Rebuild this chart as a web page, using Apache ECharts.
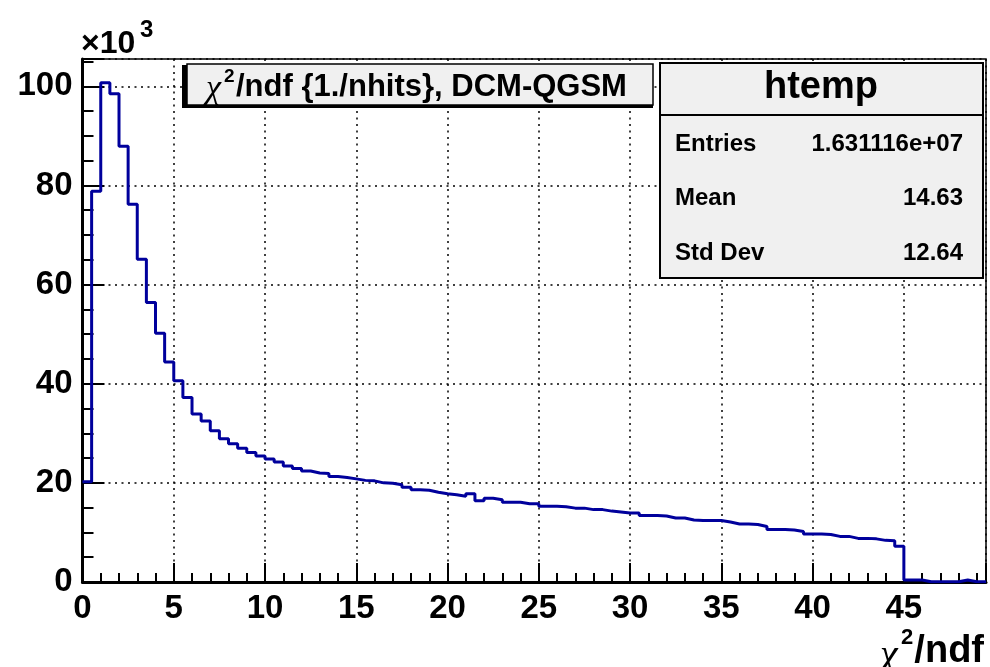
<!DOCTYPE html>
<html>
<head>
<meta charset="utf-8">
<script src="https://cdn.jsdelivr.net/npm/echarts@6/dist/echarts.min.js"></script>
<style>
html,body{margin:0;padding:0;background:#fff;}
#chart{width:990px;height:667px;}
</style>
</head>
<body>
<div id="chart"></div>
<script>
// ---- data (counts in units of 10^3) ----
var binStart = 0;
var binWidth = 0.5;
var counts = [
  20.2, 78.8, 100.7, 98.5, 87.9, 76.2, 65.1, 56.4, 50.2, 44.4,
  40.6, 37.2, 33.9, 32.5, 30.5, 28.9, 27.9, 27.0, 26.1, 25.4,
  24.8, 24.2, 23.4, 22.9, 22.4, 22.0, 21.9, 21.3, 21.1, 20.8,
  20.5, 20.4, 20.0, 19.9, 19.6, 19.1, 18.6, 18.5, 18.1, 17.8,
  17.6, 17.3, 17.8, 16.4, 16.9, 16.6, 16.1, 16.1, 15.8, 15.8,
  15.3, 15.3, 15.2, 14.9, 14.9, 14.6, 14.6, 14.3, 14.1, 13.9,
  13.9, 13.4, 13.4, 13.3, 12.9, 12.9, 12.5, 12.4, 12.4, 12.4,
  12.1, 11.7, 11.7, 11.6, 11.2, 10.6, 10.6, 10.5, 10.2, 9.7,
  9.7, 9.6, 9.2, 9.2, 8.8, 8.8, 8.7, 8.4, 8.3, 7.2,
  0.4, 0.4, 0.05, 0.05, 0.05, 0.05, 0.4, 0.05, 0.05
];
var xTicks = [0, 5, 10, 15, 20, 25, 30, 35, 40, 45];
var yTicks = [0, 20, 40, 60, 80, 100];
var xMax = 49.5;
var yMax = 105.5;
var titleText = '/ndf {1./nhits}, DCM-QGSM';
var statsName = 'htemp';
var statsLabels = ['Entries', 'Mean', 'Std Dev'];
var statsValues = ['1.631116e+07', '14.63', '12.64'];

// ---- build step points ----
var pts = [];
for (var i = 0; i < counts.length; i++) {
  pts.push([binStart + i * binWidth, counts[i]]);
}
pts.push([binStart + counts.length * binWidth, counts[counts.length - 1]]);

var FONT = 'Liberation Sans, Arial, Helvetica, sans-serif';
var SERIF = 'Liberation Serif, DejaVu Serif, serif';
var chart = echarts.init(document.getElementById('chart'), null, {renderer: 'canvas'});
var dotted = {color: '#000', width: 1.5, type: [2, 4.5]};

function txt(x, y, s, font, align) {
  var st = {text: s, font: font, fill: '#000', align: align || 'left', verticalAlign: 'middle'};
  return {type: 'text', z: 12, x: x, y: y, style: st};
}

var option = {
  animation: false,
  backgroundColor: '#fff',
  grid: {
    left: 82.5, right: 4, top: 59, bottom: 85,
    show: true, borderColor: '#000', borderWidth: 1.5, backgroundColor: 'transparent'
  },
  xAxis: [{
    type: 'value', min: 0, max: xMax, interval: 5,
    axisLine: {show: true, onZero: false, lineStyle: {color: '#000', width: 3}},
    axisTick: {show: true, inside: true, length: 19, lineStyle: {color: '#000', width: 2}},
    minorTick: {show: true, splitNumber: 5, length: 9, lineStyle: {color: '#000', width: 2}},
    axisLabel: {
      color: '#000', fontFamily: FONT, fontWeight: 'bold', fontSize: 33, margin: 10,
      formatter: function (v) { return xTicks.indexOf(v) >= 0 ? String(v) : ''; }
    },
    splitLine: {show: true, lineStyle: dotted}
  }, {
    type: 'value', min: 0, max: xMax, interval: 5, position: 'top',
    axisLine: {show: false},
    axisTick: {show: true, inside: false, length: 4, lineStyle: {color: '#000', width: 1.5}},
    axisLabel: {show: false},
    splitLine: {show: false}
  }],
  yAxis: {
    type: 'value', min: 0, max: yMax, interval: 20,
    axisLine: {show: true, onZero: false, lineStyle: {color: '#000', width: 3}},
    axisTick: {show: true, inside: true, length: 22, lineStyle: {color: '#000', width: 2}},
    minorTick: {show: true, splitNumber: 4, length: 11, lineStyle: {color: '#000', width: 2}},
    axisLabel: {
      color: '#000', fontFamily: FONT, fontWeight: 'bold', fontSize: 33, margin: 10,
      formatter: function (v) { return yTicks.indexOf(v) >= 0 ? String(v) : ''; }
    },
    splitLine: {show: true, lineStyle: dotted}
  },
  series: [{
    type: 'line', step: 'end', showSymbol: false, symbol: 'none',
    data: pts,
    lineStyle: {color: '#00009c', width: 3},
    z: 5
  }],
  graphic: [
    // x10^3
    txt(81, 44, '×10', 'bold 32px ' + FONT),
    txt(140, 30, '3', 'bold 24px ' + FONT),
    // title box with shadow
    {type: 'rect', z: 10, shape: {x: 182, y: 65, width: 471, height: 43}, style: {fill: '#000'}},
    {type: 'rect', z: 11, shape: {x: 187, y: 64, width: 466, height: 41},
      style: {fill: '#f0f0f0', stroke: '#000', lineWidth: 1.5}},
    txt(206, 89, 'χ', 'italic 34px ' + SERIF),
    txt(224, 77, '2', 'bold 19px ' + FONT),
    txt(236, 87, titleText, 'bold 31px ' + FONT),
    // stats box
    {type: 'rect', z: 10, shape: {x: 660, y: 63, width: 323, height: 215},
      style: {fill: '#f0f0f0', stroke: '#000', lineWidth: 2}},
    {type: 'line', z: 11, shape: {x1: 660, y1: 115, x2: 983, y2: 115},
      style: {stroke: '#000', lineWidth: 2}},
    txt(821, 88, statsName, 'bold 38px ' + FONT, 'center'),
    txt(675, 144, statsLabels[0], 'bold 24px ' + FONT),
    txt(963, 144, statsValues[0], 'bold 24px ' + FONT, 'right'),
    txt(675, 198, statsLabels[1], 'bold 24px ' + FONT),
    txt(963, 198, statsValues[1], 'bold 24px ' + FONT, 'right'),
    txt(675, 253, statsLabels[2], 'bold 24px ' + FONT),
    txt(963, 253, statsValues[2], 'bold 24px ' + FONT, 'right'),
    // x-axis title
    txt(984, 652, '/ndf', 'bold 38px ' + FONT, 'right'),
    txt(901, 638, '2', 'bold 22px ' + FONT, 'left'),
    txt(880, 656, 'χ', 'italic 40px ' + SERIF, 'left')
  ]
};
chart.setOption(option);
</script>
</body>
</html>
